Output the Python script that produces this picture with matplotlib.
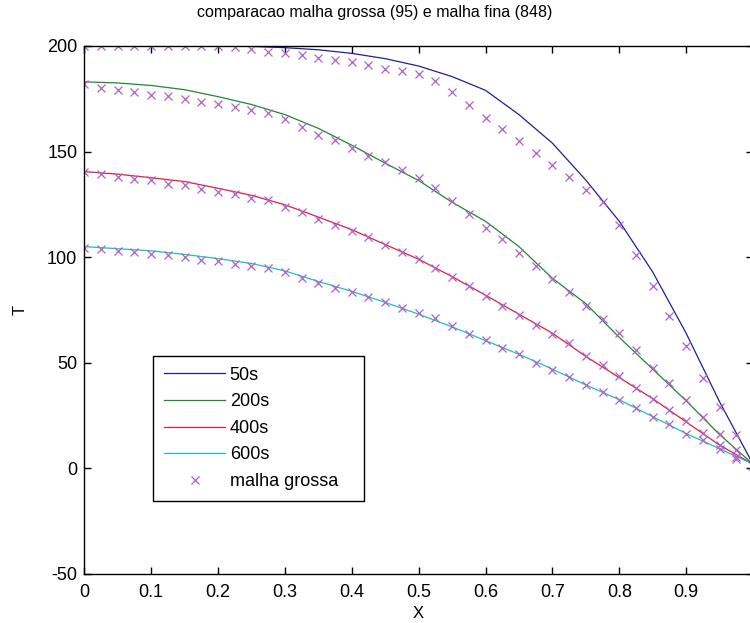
import matplotlib
matplotlib.use('Agg')
import matplotlib.pyplot as plt

plt.rcParams['font.family'] = ['Liberation Sans', 'DejaVu Sans']
plt.rcParams['axes.unicode_minus'] = False

# malha fina (848 nos) - perfil de temperatura ao longo de X
x_fina = [0.00, 0.05, 0.10, 0.15, 0.20, 0.25, 0.30, 0.35, 0.40, 0.45, 0.50,
          0.55, 0.60, 0.65, 0.70, 0.75, 0.80, 0.85, 0.90, 0.95, 1.00]
T50_fina = [200, 200, 200, 200, 200, 199.8, 199.2, 198.2, 196.5, 194.0, 190.5,
            185.5, 179.0, 167.5, 154.0, 136.5, 117.0, 93.0, 64.0, 31.5, 2.0]
T200_fina = [183.0, 182.5, 181.3, 179.3, 176.0, 172.3, 167.5, 161.0, 153.0, 144.5, 136.3,
             126.0, 117.0, 105.0, 90.0, 78.0, 62.0, 47.0, 32.0, 16.0, 2.0]
T400_fina = [140.5, 139.3, 137.6, 135.8, 132.6, 129.3, 124.8, 119.0, 113.0, 106.0, 99.0,
             90.8, 82.0, 73.0, 64.0, 53.0, 43.0, 33.0, 22.0, 11.0, 2.0]
T600_fina = [105.0, 104.0, 103.0, 101.3, 99.3, 97.0, 93.5, 88.5, 83.8, 78.6, 73.0,
             67.0, 60.5, 54.0, 47.0, 39.5, 32.5, 24.5, 16.5, 9.3, 2.0]

# malha grossa (95 nos)
x_grossa = [0.000, 0.025, 0.050, 0.075, 0.100, 0.125, 0.150, 0.175, 0.200, 0.225,
            0.250, 0.275, 0.300, 0.325, 0.350, 0.375, 0.400, 0.425, 0.450, 0.475,
            0.500, 0.525, 0.550, 0.575, 0.600, 0.625, 0.650, 0.675, 0.700, 0.725,
            0.750, 0.775, 0.800, 0.825, 0.850, 0.875, 0.900, 0.925, 0.950, 0.975, 1.000]
T50_grossa = [200, 200, 200, 200, 200, 200, 200, 200, 199.8, 199.5,
              198.5, 197.3, 196.5, 195.5, 194.5, 193.2, 192.3, 190.8, 189.2, 188.0,
              186.8, 183.5, 178.0, 172.0, 166.0, 160.5, 155.2, 149.3, 143.5, 137.8,
              132.0, 126.3, 115.0, 101.0, 86.3, 72.0, 58.0, 43.0, 29.0, 15.6, 2.0]
T200_grossa = [182.0, 180.0, 179.3, 178.0, 177.0, 176.3, 174.7, 173.4, 172.6, 171.0,
               169.8, 168.2, 165.6, 161.8, 158.0, 155.3, 151.8, 148.0, 145.0, 141.4,
               137.6, 132.7, 126.6, 120.3, 114.0, 108.6, 102.0, 96.0, 89.8, 83.7,
               77.0, 70.9, 64.0, 55.9, 47.7, 40.4, 32.2, 24.3, 16.4, 8.5, 1.0]
T400_grossa = [140.5, 139.5, 138.0, 137.2, 136.4, 134.5, 134.0, 132.4, 130.8, 129.7,
               128.2, 127.2, 123.7, 121.4, 118.2, 115.0, 112.4, 109.5, 105.6, 102.4,
               99.3, 95.0, 90.6, 86.2, 81.4, 76.7, 72.4, 67.7, 63.5, 59.3,
               53.0, 48.8, 43.6, 38.2, 33.0, 27.5, 22.4, 16.7, 10.9, 5.4, 1.0]
T600_grossa = [104.5, 104.0, 102.9, 102.4, 101.6, 100.9, 100.1, 98.8, 98.0, 96.6,
               95.6, 94.8, 92.9, 90.0, 87.7, 85.5, 83.5, 81.1, 78.7, 76.1,
               73.6, 71.4, 67.3, 63.4, 60.6, 57.1, 54.0, 49.9, 46.5, 43.2,
               39.3, 36.1, 32.5, 28.7, 24.3, 20.8, 16.4, 13.3, 9.3, 4.6, 1.0]

rotulos = ['50s', '200s', '400s', '600s']
cores = ['#1f1f9c', '#1f8a2f', '#e01f3c', '#1fbfbf']
cor_x = '#b060d0'

fig = plt.figure(figsize=(7.5, 6.23), dpi=100)
ax = fig.add_axes([0.1124, 0.0787, 0.8916, 0.8475])

for T, cor, rot in zip([T50_fina, T200_fina, T400_fina, T600_fina], cores, rotulos):
    ax.plot(x_fina, T, color=cor, lw=0.9, label=rot)

for i, T in enumerate([T50_grossa, T200_grossa, T400_grossa, T600_grossa]):
    ax.plot(x_grossa, T, ls='none', marker='x', ms=5.5, mew=0.9, color=cor_x,
            label='malha grossa' if i == 0 else None)

ax.set_xlim(0, 1)
ax.set_ylim(-50, 200)
ax.set_xticks([0, 0.1, 0.2, 0.3, 0.4, 0.5, 0.6, 0.7, 0.8, 0.9, 1.0])
# o rotulo de x=1 fica fora da figura
ax.set_xticklabels(['0', '0.1', '0.2', '0.3', '0.4', '0.5', '0.6', '0.7', '0.8', '0.9', ''])
ax.set_yticks([-50, 0, 50, 100, 150, 200])
ax.tick_params(direction='in', top=True, right=True, length=5, width=1, labelsize=13)
ax.tick_params(axis='x', pad=7)
ax.tick_params(axis='y', pad=5)
for s in ax.spines.values():
    s.set_linewidth(1.0)

ax.set_xlabel('X', fontsize=12, labelpad=4)
ax.set_ylabel('T', fontsize=12, labelpad=14)
titulo = ax.set_title('comparacao malha grossa (95) e malha fina (848)', fontsize=11.5, pad=21)
titulo.set_x(0.435)

leg = ax.legend(loc='upper left', bbox_to_anchor=(0.1027, 0.138, 0.3156, 0.275),
                mode='expand', borderaxespad=0, fontsize=13, fancybox=False,
                framealpha=1, edgecolor='black', handlelength=3.4, handletextpad=0.25,
                labelspacing=0.53, borderpad=0.6)
leg.get_frame().set_linewidth(1.0)

fig.savefig('out.png', dpi=100)
